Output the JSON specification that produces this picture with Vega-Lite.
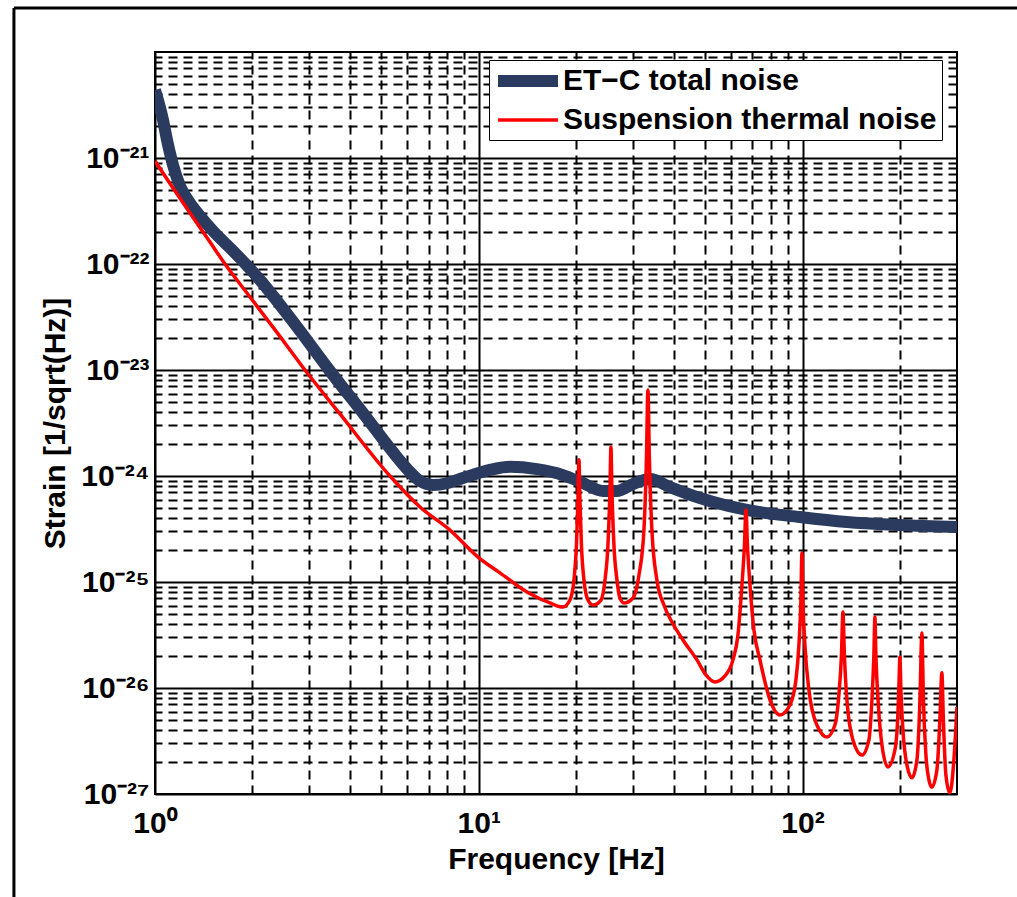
{
  "$schema": "https://vega.github.io/schema/vega-lite/v6.json",
  "width": 802,
  "height": 742,
  "autosize": "none",
  "padding": {"left": 155, "top": 52, "right": 60, "bottom": 103},
  "background": "white",
  "config": {
    "view": {"stroke": "black", "strokeWidth": 2},
    "legend": {
      "orient": "none", "legendX": 334, "legendY": 8,
      "labelFont": "Liberation Sans", "labelFontSize": 30, "labelFontWeight": "bold", "labelColor": "black",
      "labelLimit": 800, "labelOffset": 19,
      "symbolType": "M-3,0L3,0", "symbolSize": 400, "symbolOffset": 18,
      "strokeColor": "black", "fillColor": "white", "padding": 5, "rowPadding": -2, "cornerRadius": 0
    }
  },
  "datasets": {
    "blue": [
      {"f": 1, "s": 4.38e-21, "series": "ET−C total noise"},
      {"f": 1.0586, "s": 2.28e-21, "series": "ET−C total noise"},
      {"f": 1.0891, "s": 1.48e-21, "series": "ET−C total noise"},
      {"f": 1.1365, "s": 8.59e-22, "series": "ET−C total noise"},
      {"f": 1.1945, "s": 5.44e-22, "series": "ET−C total noise"},
      {"f": 1.2825, "s": 3.76e-22, "series": "ET−C total noise"},
      {"f": 1.3771, "s": 2.84e-22, "series": "ET−C total noise"},
      {"f": 1.5318, "s": 1.96e-22, "series": "ET−C total noise"},
      {"f": 1.7413, "s": 1.33e-22, "series": "ET−C total noise"},
      {"f": 2.11, "s": 7.07e-23, "series": "ET−C total noise"},
      {"f": 2.7453, "s": 2.55e-23, "series": "ET−C total noise"},
      {"f": 3.4705, "s": 9.79e-24, "series": "ET−C total noise"},
      {"f": 4.3878, "s": 3.93e-24, "series": "ET−C total noise"},
      {"f": 5.5898, "s": 1.51e-24, "series": "ET−C total noise"},
      {"f": 6.1317, "s": 1.09e-24, "series": "ET−C total noise"},
      {"f": 6.5826, "s": 8.97e-25, "series": "ET−C total noise"},
      {"f": 7.2218, "s": 8.22e-25, "series": "ET−C total noise"},
      {"f": 8.0334, "s": 8.59e-25, "series": "ET−C total noise"},
      {"f": 8.9376, "s": 9.57e-25, "series": "ET−C total noise"},
      {"f": 10.828, "s": 1.14e-24, "series": "ET−C total noise"},
      {"f": 12.489, "s": 1.22e-24, "series": "ET−C total noise"},
      {"f": 15.122, "s": 1.16e-24, "series": "ET−C total noise"},
      {"f": 18.197, "s": 1.02e-24, "series": "ET−C total noise"},
      {"f": 20.98, "s": 8.59e-25, "series": "ET−C total noise"},
      {"f": 24.19, "s": 7.22e-25, "series": "ET−C total noise"},
      {"f": 26.72, "s": 7.22e-25, "series": "ET−C total noise"},
      {"f": 29.94, "s": 8.4e-25, "series": "ET−C total noise"},
      {"f": 33.79, "s": 9.37e-25, "series": "ET−C total noise"},
      {"f": 38.96, "s": 7.87e-25, "series": "ET−C total noise"},
      {"f": 48.22, "s": 6.2e-25, "series": "ET−C total noise"},
      {"f": 67.35, "s": 4.78e-25, "series": "ET−C total noise"},
      {"f": 98.16, "s": 4.1e-25, "series": "ET−C total noise"},
      {"f": 137.1, "s": 3.68e-25, "series": "ET−C total noise"},
      {"f": 199.9, "s": 3.45e-25, "series": "ET−C total noise"},
      {"f": 300, "s": 3.3e-25, "series": "ET−C total noise"}
    ],
    "red": [
      {"f": 1, "s": 9.37e-22, "series": "Suspension thermal noise"},
      {"f": 1.1124, "s": 5.74e-22, "series": "Suspension thermal noise"},
      {"f": 1.2825, "s": 3.03e-22, "series": "Suspension thermal noise"},
      {"f": 1.4786, "s": 1.61e-22, "series": "Suspension thermal noise"},
      {"f": 1.6453, "s": 1.0e-22, "series": "Suspension thermal noise"},
      {"f": 1.9654, "s": 4.88e-23, "series": "Suspension thermal noise"},
      {"f": 2.3485, "s": 2.39e-23, "series": "Suspension thermal noise"},
      {"f": 2.9056, "s": 1.0e-23, "series": "Suspension thermal noise"},
      {"f": 3.7269, "s": 3.85e-24, "series": "Suspension thermal noise"},
      {"f": 5.3183, "s": 1.0e-24, "series": "Suspension thermal noise"},
      {"f": 6.5826, "s": 5.1e-25, "series": "Suspension thermal noise"},
      {"f": 8.1487, "s": 3.09e-25, "series": "Suspension thermal noise"},
      {"f": 9.943, "s": 1.72e-25, "series": "Suspension thermal noise"},
      {"f": 11.628, "s": 1.22e-25, "series": "Suspension thermal noise"},
      {"f": 14.089, "s": 8.05e-26, "series": "Suspension thermal noise"},
      {"f": 16.59, "s": 6.34e-26, "series": "Suspension thermal noise"},
      {"f": 18.197, "s": 5.81e-26, "series": "Suspension thermal noise"},
      {"f": 19.125, "s": 6.76e-26, "series": "Suspension thermal noise"},
      {"f": 19.68, "s": 1.044e-25, "series": "Suspension thermal noise"},
      {"f": 20.03, "s": 2.23e-25, "series": "Suspension thermal noise"},
      {"f": 20.245, "s": 5.94e-25, "series": "Suspension thermal noise"},
      {"f": 20.39, "s": 1.42e-24, "series": "Suspension thermal noise"},
      {"f": 20.535, "s": 5.94e-25, "series": "Suspension thermal noise"},
      {"f": 20.755, "s": 2.23e-25, "series": "Suspension thermal noise"},
      {"f": 21.13, "s": 1.044e-25, "series": "Suspension thermal noise"},
      {"f": 21.74, "s": 6.76e-26, "series": "Suspension thermal noise"},
      {"f": 22.53, "s": 6.07e-26, "series": "Suspension thermal noise"},
      {"f": 23.85, "s": 6.76e-26, "series": "Suspension thermal noise"},
      {"f": 24.54, "s": 1.044e-25, "series": "Suspension thermal noise"},
      {"f": 25.06, "s": 2.23e-25, "series": "Suspension thermal noise"},
      {"f": 25.42, "s": 7.38e-25, "series": "Suspension thermal noise"},
      {"f": 25.6, "s": 1.88e-24, "series": "Suspension thermal noise"},
      {"f": 25.78, "s": 7.38e-25, "series": "Suspension thermal noise"},
      {"f": 26.155, "s": 2.23e-25, "series": "Suspension thermal noise"},
      {"f": 26.72, "s": 1.044e-25, "series": "Suspension thermal noise"},
      {"f": 27.29, "s": 7.07e-26, "series": "Suspension thermal noise"},
      {"f": 28.08, "s": 6.34e-26, "series": "Suspension thermal noise"},
      {"f": 29.94, "s": 7.07e-26, "series": "Suspension thermal noise"},
      {"f": 31.24, "s": 1.16e-25, "series": "Suspension thermal noise"},
      {"f": 32.37, "s": 3.09e-25, "series": "Suspension thermal noise"},
      {"f": 32.95, "s": 1.42e-24, "series": "Suspension thermal noise"},
      {"f": 33.3, "s": 6.48e-24, "series": "Suspension thermal noise"},
      {"f": 33.66, "s": 1.42e-24, "series": "Suspension thermal noise"},
      {"f": 34.26, "s": 3.09e-25, "series": "Suspension thermal noise"},
      {"f": 35.5, "s": 1.044e-25, "series": "Suspension thermal noise"},
      {"f": 37.32, "s": 6.07e-26, "series": "Suspension thermal noise"},
      {"f": 39.51, "s": 4.19e-26, "series": "Suspension thermal noise"},
      {"f": 42.72, "s": 2.84e-26, "series": "Suspension thermal noise"},
      {"f": 47.2, "s": 1.84e-26, "series": "Suspension thermal noise"},
      {"f": 50.31, "s": 1.33e-26, "series": "Suspension thermal noise"},
      {"f": 53.63, "s": 1.14e-26, "series": "Suspension thermal noise"},
      {"f": 57.6, "s": 1.3e-26, "series": "Suspension thermal noise"},
      {"f": 60.97, "s": 1.84e-26, "series": "Suspension thermal noise"},
      {"f": 63.17, "s": 3.16e-26, "series": "Suspension thermal noise"},
      {"f": 65.0, "s": 9.37e-26, "series": "Suspension thermal noise"},
      {"f": 66.17, "s": 2.23e-25, "series": "Suspension thermal noise"},
      {"f": 66.88, "s": 4.78e-25, "series": "Suspension thermal noise"},
      {"f": 67.59, "s": 2.23e-25, "series": "Suspension thermal noise"},
      {"f": 68.81, "s": 9.37e-26, "series": "Suspension thermal noise"},
      {"f": 70.79, "s": 3.52e-26, "series": "Suspension thermal noise"},
      {"f": 73.88, "s": 1.84e-26, "series": "Suspension thermal noise"},
      {"f": 79.33, "s": 7.71e-27, "series": "Suspension thermal noise"},
      {"f": 85.14, "s": 5.56e-27, "series": "Suspension thermal noise"},
      {"f": 91.43, "s": 6.91e-27, "series": "Suspension thermal noise"},
      {"f": 95.41, "s": 1.19e-26, "series": "Suspension thermal noise"},
      {"f": 97.47, "s": 2.55e-26, "series": "Suspension thermal noise"},
      {"f": 98.86, "s": 6.76e-26, "series": "Suspension thermal noise"},
      {"f": 99.57, "s": 1.88e-25, "series": "Suspension thermal noise"},
      {"f": 100.28, "s": 6.76e-26, "series": "Suspension thermal noise"},
      {"f": 101.72, "s": 2.55e-26, "series": "Suspension thermal noise"},
      {"f": 104.65, "s": 9.57e-27, "series": "Suspension thermal noise"},
      {"f": 110.77, "s": 4.48e-27, "series": "Suspension thermal noise"},
      {"f": 118.96, "s": 3.45e-27, "series": "Suspension thermal noise"},
      {"f": 125.9, "s": 4.48e-27, "series": "Suspension thermal noise"},
      {"f": 129.5, "s": 8.59e-27, "series": "Suspension thermal noise"},
      {"f": 131.9, "s": 2.05e-26, "series": "Suspension thermal noise"},
      {"f": 133.3, "s": 5.21e-26, "series": "Suspension thermal noise"},
      {"f": 134.7, "s": 2.05e-26, "series": "Suspension thermal noise"},
      {"f": 137.1, "s": 7.71e-27, "series": "Suspension thermal noise"},
      {"f": 143.1, "s": 3.23e-27, "series": "Suspension thermal noise"},
      {"f": 152.6, "s": 2.33e-27, "series": "Suspension thermal noise"},
      {"f": 160.3, "s": 3.23e-27, "series": "Suspension thermal noise"},
      {"f": 163.8, "s": 7.71e-27, "series": "Suspension thermal noise"},
      {"f": 166.1, "s": 2.05e-26, "series": "Suspension thermal noise"},
      {"f": 167.3, "s": 4.68e-26, "series": "Suspension thermal noise"},
      {"f": 168.5, "s": 2.05e-26, "series": "Suspension thermal noise"},
      {"f": 171.5, "s": 6.91e-27, "series": "Suspension thermal noise"},
      {"f": 175.9, "s": 2.9e-27, "series": "Suspension thermal noise"},
      {"f": 183.5, "s": 1.8e-27, "series": "Suspension thermal noise"},
      {"f": 192.9, "s": 2.6e-27, "series": "Suspension thermal noise"},
      {"f": 197.0, "s": 5.56e-27, "series": "Suspension thermal noise"},
      {"f": 198.5, "s": 1.07e-26, "series": "Suspension thermal noise"},
      {"f": 199.9, "s": 1.96e-26, "series": "Suspension thermal noise"},
      {"f": 201.3, "s": 9.57e-27, "series": "Suspension thermal noise"},
      {"f": 204.2, "s": 4.02e-27, "series": "Suspension thermal noise"},
      {"f": 210.1, "s": 1.88e-27, "series": "Suspension thermal noise"},
      {"f": 217.7, "s": 1.42e-27, "series": "Suspension thermal noise"},
      {"f": 225.6, "s": 2.09e-27, "series": "Suspension thermal noise"},
      {"f": 230.5, "s": 7.71e-27, "series": "Suspension thermal noise"},
      {"f": 233.7, "s": 3.3e-26, "series": "Suspension thermal noise"},
      {"f": 236.3, "s": 7.71e-27, "series": "Suspension thermal noise"},
      {"f": 240.5, "s": 2.33e-27, "series": "Suspension thermal noise"},
      {"f": 245.7, "s": 1.36e-27, "series": "Suspension thermal noise"},
      {"f": 250.9, "s": 1.16e-27, "series": "Suspension thermal noise"},
      {"f": 260.0, "s": 1.68e-27, "series": "Suspension thermal noise"},
      {"f": 265.6, "s": 4.99e-27, "series": "Suspension thermal noise"},
      {"f": 269.4, "s": 1.39e-26, "series": "Suspension thermal noise"},
      {"f": 272.3, "s": 4.99e-27, "series": "Suspension thermal noise"},
      {"f": 277.2, "s": 1.51e-27, "series": "Suspension thermal noise"},
      {"f": 285.2, "s": 1.02e-27, "series": "Suspension thermal noise"},
      {"f": 293.4, "s": 2.09e-27, "series": "Suspension thermal noise"},
      {"f": 300, "s": 6.62e-27, "series": "Suspension thermal noise"}
    ]
  },
  "layer": [
    {
      "data": {"values": [{}]},
      "mark": {"type": "rule", "clip": false, "color": "black", "strokeWidth": 3},
      "encoding": {
        "x": {"datum": 0.3667, "type": "quantitative", "scale": {"type": "log", "domain": [1, 300], "nice": false}, "axis": null},
        "x2": {"datum": 470},
        "y": {"datum": 2.6e-20, "type": "quantitative", "scale": {"type": "log", "domain": [1e-27, 1e-20], "nice": false}, "axis": null}
      }
    },
    {
      "data": {"values": [{}]},
      "mark": {"type": "rule", "clip": false, "color": "black", "strokeWidth": 3},
      "encoding": {
        "x": {"datum": 0.3667, "type": "quantitative", "scale": {"type": "log", "domain": [1, 300], "nice": false}, "axis": null},
        "y": {"datum": 2.6e-20, "type": "quantitative", "scale": {"type": "log", "domain": [1e-27, 1e-20], "nice": false}, "axis": null},
        "y2": {"datum": 1e-28}
      }
    },
    {
      "data": {"name": "blue"},
      "mark": {"type": "line", "clip": true, "interpolate": "monotone", "strokeJoin": "round"},
      "encoding": {
        "x": {
          "field": "f", "type": "quantitative",
          "scale": {"type": "log", "domain": [1, 300], "nice": false},
          "axis": {
            "orient": "bottom", "values": [1, 10, 100],
            "grid": true, "gridColor": "black", "gridWidth": 2, "gridOpacity": 1,
            "ticks": false, "domain": false,
            "labelExpr": "'10' + ['⁰','¹','²'][round(log(datum.value)/LN10)]",
            "labelFont": "Liberation Sans", "labelFontSize": 30, "labelFontWeight": "bold", "labelColor": "black",
            "labelPadding": 14, "labelFlush": false, "labelOverlap": false, "labelBound": false,
            "title": "Frequency [Hz]", "titleFont": "Liberation Sans", "titleFontSize": 30, "titleFontWeight": "bold",
            "titleColor": "black", "titlePadding": 6
          }
        },
        "y": {
          "field": "s", "type": "quantitative",
          "scale": {"type": "log", "domain": [1e-27, 1e-20], "nice": false},
          "axis": {
            "orient": "left", "values": [1e-27, 1e-26, 1e-25, 1e-24, 1e-23, 1e-22, 1e-21],
            "grid": true, "gridColor": "black", "gridWidth": 2, "gridOpacity": 1,
            "ticks": false, "domain": false,
            "labelExpr": "'10⁻²' + ['⁰','¹','²','³','⁴','⁵','⁶','⁷','⁸','⁹'][round(-log(datum.value)/LN10) - 20]",
            "labelFont": "Liberation Sans", "labelFontSize": 30, "labelFontWeight": "bold", "labelColor": "black",
            "labelPadding": 6, "labelOverlap": false, "labelBound": false,
            "title": "Strain [1/sqrt(Hz)]", "titleFont": "Liberation Sans", "titleFontSize": 30, "titleFontWeight": "bold",
            "titleColor": "black", "titlePadding": 10
          }
        },
        "color": {
          "field": "series", "type": "nominal",
          "scale": {"domain": ["ET−C total noise", "Suspension thermal noise"], "range": ["#2b3b5f", "#ff0000"]},
          "legend": {"title": null}
        },
        "strokeWidth": {
          "field": "series", "type": "ordinal",
          "scale": {"domain": ["ET−C total noise", "Suspension thermal noise"], "range": [12, 3.5]},
          "legend": {"title": null}
        }
      }
    },
    {
      "data": {"name": "red"},
      "mark": {"type": "line", "clip": true, "interpolate": "monotone", "strokeJoin": "round"},
      "encoding": {
        "x": {
          "field": "f", "type": "quantitative",
          "scale": {"type": "log", "domain": [1, 300], "nice": false},
          "axis": {
            "orient": "top", "values": [2, 3, 4, 5, 6, 7, 8, 9, 20, 30, 40, 50, 60, 70, 80, 90, 200],
            "grid": true, "gridColor": "black", "gridWidth": 2, "gridOpacity": 1, "gridDash": [9, 6],
            "ticks": false, "domain": false, "labels": false, "title": null
          }
        },
        "y": {
          "field": "s", "type": "quantitative",
          "scale": {"type": "log", "domain": [1e-27, 1e-20], "nice": false},
          "axis": {
            "orient": "right",
            "values": [2e-27, 3e-27, 4e-27, 5e-27, 6e-27, 7e-27, 8e-27, 9e-27,
                       2e-26, 3e-26, 4e-26, 5e-26, 6e-26, 7e-26, 8e-26, 9e-26,
                       2e-25, 3e-25, 4e-25, 5e-25, 6e-25, 7e-25, 8e-25, 9e-25,
                       2e-24, 3e-24, 4e-24, 5e-24, 6e-24, 7e-24, 8e-24, 9e-24,
                       2e-23, 3e-23, 4e-23, 5e-23, 6e-23, 7e-23, 8e-23, 9e-23,
                       2e-22, 3e-22, 4e-22, 5e-22, 6e-22, 7e-22, 8e-22, 9e-22,
                       2e-21, 3e-21, 4e-21, 5e-21, 6e-21, 7e-21, 8e-21, 9e-21],
            "grid": true, "gridColor": "black", "gridWidth": 2, "gridOpacity": 1, "gridDash": [9, 6],
            "ticks": false, "domain": false, "labels": false, "title": null
          }
        },
        "color": {
          "field": "series", "type": "nominal",
          "scale": {"domain": ["ET−C total noise", "Suspension thermal noise"], "range": ["#2b3b5f", "#ff0000"]},
          "legend": {"title": null}
        },
        "strokeWidth": {
          "field": "series", "type": "ordinal",
          "scale": {"domain": ["ET−C total noise", "Suspension thermal noise"], "range": [12, 3.5]},
          "legend": {"title": null}
        }
      }
    }
  ],
  "resolve": {
    "scale": {"x": "shared", "y": "shared"},
    "axis": {"x": "independent", "y": "independent"}
  }
}
